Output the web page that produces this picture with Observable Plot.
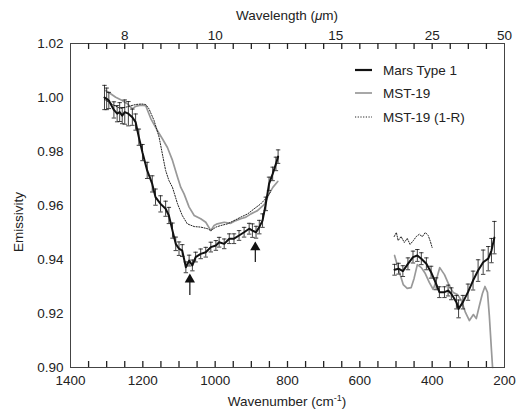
<!DOCTYPE html>
<html><head><meta charset="utf-8">
<script src="https://cdn.jsdelivr.net/npm/d3@7"></script>
<script src="https://cdn.jsdelivr.net/npm/@observablehq/plot@0.6"></script>
<style>
body{margin:0;background:#fff;font-family:"Liberation Sans",Arial,sans-serif;}
#wrap{position:relative;width:517px;height:411px;overflow:hidden;}
.ov{position:absolute;color:#222;font-size:13.5px;white-space:nowrap;}
.leg{position:absolute;left:355px;font-size:13.5px;color:#222;display:flex;align-items:center;}
.leg svg{margin-right:11px;}
</style></head><body><div id="wrap"></div>
<script>
// Mars Type 1: [wavenumber, emissivity, error]
const marsSeg1 = [
[1306,1.0000,0.0045],[1300,0.9995,0.0040],[1294,0.9989,0.0030],[1280,0.9954,0.0030],[1271,0.9940,0.0030],
[1264,0.9946,0.0035],[1257,0.9933,0.0030],[1250,0.9946,0.0045],[1240,0.9940,0.0045],[1229,0.9927,0.0030],
[1220,0.9909,0.0030],[1211,0.9853,0.0030],[1201,0.9796,0.0030],[1188,0.9730,0.0030],[1174,0.9680,0.0030],
[1165,0.9631,0.0030],[1151,0.9606,0.0030],[1137,0.9588,0.0028],[1128,0.9563,0.0030],[1118,0.9507,0.0028],
[1109,0.9458,0.0025],[1100,0.9440,0.0025],[1091,0.9433,0.0022],[1081,0.9371,0.0020],[1072,0.9396,0.0020],
[1063,0.9378,0.0020],[1054,0.9409,0.0018],[1040,0.9421,0.0018],[1026,0.9427,0.0018],[1012,0.9446,0.0018],
[998,0.9452,0.0018],[989,0.9464,0.0018],[975,0.9458,0.0018],[961,0.9477,0.0018],[948,0.9477,0.0018],
[934,0.9489,0.0018],[920,0.9501,0.0018],[906,0.9514,0.0020],[897,0.9507,0.0025],[887,0.9501,0.0022],
[878,0.9520,0.0025],[869,0.9544,0.0025],[860,0.9606,0.0025],[851,0.9680,0.0025],[841,0.9717,0.0025],
[832,0.9754,0.0025],[826,0.9781,0.0025]
];
const marsSeg2 = [
[504,0.9362,0.0020],[493,0.9366,0.0020],[481,0.9357,0.0020],[467,0.9384,0.0022],[453,0.9409,0.0022],
[441,0.9415,0.0022],[430,0.9403,0.0022],[416,0.9384,0.0022],[403,0.9353,0.0022],[389,0.9310,0.0022],
[380,0.9279,0.0020],[366,0.9279,0.0020],[356,0.9285,0.0020],[347,0.9273,0.0022],[333,0.9242,0.0025],
[327,0.9217,0.0033],[315,0.9242,0.0025],[301,0.9279,0.0030],[287,0.9322,0.0035],[273,0.9359,0.0040],
[259,0.9390,0.0045],[245,0.9403,0.0045],[236,0.9433,0.0045],[228,0.9481,0.0060]
];
// MST-19 emissivity
const mstSeg1 = [
[1303,1.0026],[1289,1.0014],[1275,1.0001],[1257,0.9989],[1243,0.9977],[1229,0.9958],[1220,0.9967],
[1206,0.9972],[1192,0.9970],[1178,0.9922],[1160,0.9878],[1146,0.9847],[1132,0.9815],[1118,0.9767],
[1104,0.9705],[1095,0.9667],[1086,0.9643],[1072,0.9594],[1058,0.9563],[1040,0.9551],[1026,0.9538],
[1012,0.9507],[1003,0.9526],[994,0.9532],[975,0.9538],[957,0.9534],[943,0.9544],[929,0.9551],
[915,0.9557],[901,0.9569],[883,0.9581],[864,0.9604],[851,0.9644],[840,0.9668],[827,0.9689]
];
const mstSeg2 = [
[504,0.9415],[492,0.9359],[480,0.9307],[469,0.9293],[458,0.9296],[450,0.9330],[441,0.9381],
[430,0.9370],[419,0.9348],[408,0.9315],[397,0.9289],[389,0.9322],[379,0.9370],[366,0.9344],
[353,0.9304],[342,0.9278],[330,0.9270],[319,0.9248],[308,0.9204],[297,0.9174],[286,0.9196],
[278,0.9181],[270,0.9226],[261,0.9274],[254,0.9300],[247,0.9278],[242,0.9193],[236,0.9063],[233,0.9000]
];
// MST-19 (1-R)
const mstRSeg1 = [
[1306,0.9993],[1284,0.9974],[1262,0.9959],[1239,0.9967],[1220,0.9974],[1203,0.9976],[1192,0.9974],
[1183,0.9958],[1169,0.9915],[1155,0.9853],[1146,0.9791],[1137,0.9730],[1128,0.9693],[1118,0.9667],
[1104,0.9606],[1091,0.9563],[1077,0.9532],[1058,0.9522],[1040,0.9520],[1021,0.9514],[1012,0.9507],
[998,0.9520],[984,0.9526],[966,0.9532],[948,0.9544],[929,0.9557],[910,0.9569],[892,0.9588],
[874,0.9606],[857,0.9630],[846,0.9652]
];
const mstRSeg2 = [
[505,0.9485],[499,0.9500],[494,0.9470],[486,0.9485],[477,0.9463],[469,0.9478],[461,0.9456],
[452,0.9470],[444,0.9485],[436,0.9493],[427,0.9485],[419,0.9500],[411,0.9489],[405,0.9467],[400,0.9444]
];
// arrows: [wavenumber, tail emissivity, tip emissivity]
const arrowData = [[1070,0.9267,0.9341],[889,0.9389,0.9460]];
const yTicks = [0.90,0.92,0.94,0.96,0.98,1.00,1.02];
const xTicks = [1400,1200,1000,800,600,400,200];
const xMinorTicks = [1350,1300,1250,1200,1150,1100,1050,1000,950,900,850,800,750,700,650,600,550,500,450,400,350,300,250];
const wavelengthTicks = [8,10,15,25,50];
const seriesNames = ["Mars Type 1","MST-19","MST-19 (1-R)"];

const yDom = [0.90,1.02];
const innerH = 411 - 43 - 44;
const tickLen = 6 * (yDom[1]-yDom[0]) / innerH; // tick length (px) expressed in data units

const toRows = (segs, hasErr) => segs.flatMap((s,i)=>s.map(r=>({wn:r[0],v:r[1],e:hasErr?r[2]:0,seg:i})));
const mars = toRows([marsSeg1,marsSeg2],true);
const mst = toRows([mstSeg1,mstSeg2],false);
const mstR = toRows([mstRSeg1,mstRSeg2],false);
const arrows = arrowData.map(([wn,tail,tip])=>({wn,tail,tip}));
const minor = xMinorTicks.map(wn=>({wn, lo:yDom[0], loTop:yDom[0]+tickLen, hiBot:yDom[1]-tickLen, hi:yDom[1]}));

const capSymbol = {draw(ctx,size){const r=Math.sqrt(size/Math.PI);ctx.moveTo(-r,0);ctx.lineTo(r,0);}};

const chart = Plot.plot({
  width:517, height:411,
  marginLeft:70, marginRight:13, marginTop:43, marginBottom:44,
  style:{fontFamily:'"Liberation Sans",Arial,sans-serif',fontSize:"13.5px",color:"#222",background:"#fff"},
  x:{domain:[1400,200]},
  y:{domain:yDom},
  marks:[
    Plot.axisY({ticks:yTicks,tickFormat:d3.format(".2f"),tickSize:0,tickPadding:7,label:null,fontSize:13.5}),
    Plot.axisX({anchor:"bottom",ticks:xTicks,tickSize:0,tickPadding:8,tickFormat:d=>String(d),label:null,fontSize:13.5}),
    Plot.axisX({anchor:"top",ticks:wavelengthTicks.map(l=>10000/l),tickSize:0,tickPadding:4,
      tickFormat:d=>String(Math.round(10000/d)),label:null,fontSize:13.5}),
    Plot.line(mst,{x:"wn",y:"v",z:"seg",stroke:"#999",strokeWidth:1.7}),
    Plot.line(mstR,{x:"wn",y:"v",z:"seg",stroke:"#222",strokeWidth:1,strokeDasharray:"1.2,1.5"}),
    Plot.ruleX(mars,{x:"wn",y1:d=>d.v-d.e,y2:d=>d.v+d.e,stroke:"#111",strokeWidth:0.8}),
    Plot.dot(mars,{x:"wn",y:d=>d.v-d.e,symbol:capSymbol,r:2.2,stroke:"#111",strokeWidth:0.8,fill:"none"}),
    Plot.dot(mars,{x:"wn",y:d=>d.v+d.e,symbol:capSymbol,r:2.2,stroke:"#111",strokeWidth:0.8,fill:"none"}),
    Plot.line(mars,{x:"wn",y:"v",z:"seg",stroke:"#111",strokeWidth:2}),
    Plot.ruleX(arrows,{x:"wn",y1:"tail",y2:"tip",stroke:"#111",strokeWidth:1.2}),
    Plot.dot(arrows,{x:"wn",y:"tip",symbol:"triangle",r:3.8,dy:4,fill:"#111",stroke:"none"}),
    Plot.frame({stroke:"#444",strokeWidth:1}),
    // inward minor ticks, bottom and top (drawn last)
    Plot.ruleX(minor,{x:"wn",y1:"lo",y2:"loTop",stroke:"#222",strokeWidth:1.3}),
    Plot.ruleX(minor,{x:"wn",y1:"hiBot",y2:"hi",stroke:"#222",strokeWidth:1.3})
  ]
});
const wrap = document.getElementById("wrap");
wrap.appendChild(chart);

function ov(html, css){const d=document.createElement("div");d.className="ov";d.innerHTML=html;Object.assign(d.style,css);wrap.appendChild(d);return d;}
ov('Wavelength (<i>&mu;</i>m)',{left:"287px",top:"8px",transform:"translateX(-50%)"});
ov('Wavenumber (cm<sup style="font-size:9px;vertical-align:5px;line-height:0">-1</sup>)',{left:"287px",top:"394px",transform:"translateX(-50%)"});
ov('Emissivity',{left:"18px",top:"222px",transform:"translate(-50%,-50%) rotate(-90deg)"});

const legStyles=[{stroke:"#111",w:2.2,dash:""},{stroke:"#999",w:1.7,dash:""},{stroke:"#222",w:1,dash:"1.2,1.5"}];
const legTops=[70,93,117];
seriesNames.forEach((n,i)=>{
  const d=document.createElement("div");d.className="leg";d.style.top=(legTops[i]-9)+"px";
  const s=legStyles[i];
  d.innerHTML=`<svg width="17" height="18"><line x1="0" x2="17" y1="9" y2="9" stroke="${s.stroke}" stroke-width="${s.w}" stroke-dasharray="${s.dash}"/></svg><span>${n}</span>`;
  wrap.appendChild(d);
});
</script></body></html>
